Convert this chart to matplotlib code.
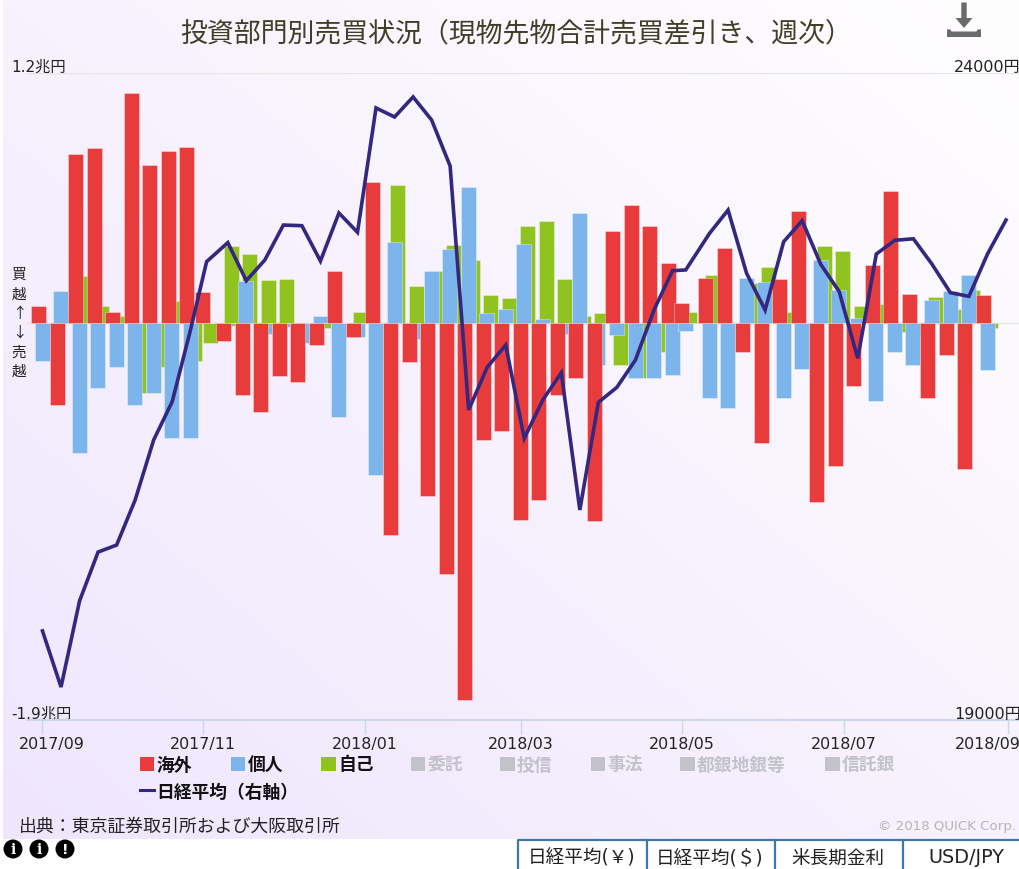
import numpy as np
import pandas as pd
import matplotlib
matplotlib.use("Agg")
import matplotlib.pyplot as plt
import matplotlib.dates as mdates
from matplotlib.patches import Rectangle, Polygon, Circle
from matplotlib.lines import Line2D
from matplotlib.transforms import Affine2D

FONT = ['DejaVu Sans', 'Noto Sans CJK JP']
plt.rcParams['font.family'] = FONT
W, H = 1019, 870

title = "投資部門別売買状況（現物先物合計売買差引き、週次）"

# weekly settlement dates (Fridays, Thursday/Wednesday where Friday is a holiday)
dates = pd.date_range("2017-09-01", "2018-08-31", freq="7D")
dates = dates.where(dates != pd.Timestamp("2017-11-03"), pd.Timestamp("2017-11-02"))
dates = dates.where(dates != pd.Timestamp("2018-05-04"), pd.Timestamp("2018-05-02"))

# 兆円
kaigai = [.085,-.393,.811,.840,.057,1.103,.760,.825,.846,.150,-.086,-.342,-.422,-.251,-.279,-.102,.249,-.064,.677,
          -1.014,-.185,-.829,-1.199,-1.803,-.559,-.516,-.944,-.844,-.343,-.259,-.948,.441,.569,.469,.291,.099,.219,.363,
          -.137,-.573,.214,.540,-.857,-.685,-.302,.278,.634,.140,-.358,-.152,-.695,.134,np.nan]
kojin = [-.181,.157,-.623,-.307,-.207,-.393,-.335,-.551,-.551,0,-.010,.205,-.051,-.016,-.094,.037,-.450,-.064,-.728,
         .391,-.073,.249,.356,.655,.049,.070,.383,.019,-.051,.527,-.201,-.057,-.263,-.259,-.249,-.038,-.358,-.407,
         .219,.200,-.358,-.216,.305,.161,.027,-.372,-.137,-.201,.114,.157,.233,-.222,np.nan]
jiko = [-.024,.085,.228,.085,.037,-.335,-.207,.107,-.181,-.094,.370,.334,.206,.214,0,-.023,0,.056,0,
        .662,.179,.249,.377,.305,.134,.120,.469,.490,.214,.037,.049,-.201,-.263,-.136,0,.056,.233,0,
        .196,.270,.056,0,.369,.348,.085,.092,-.043,-.067,.128,.070,.161,-.021,np.nan]
nikkei = [19688,19255,19920,20298,20352,20700,21164,21460,22022,22542,22689,22395,22555,22825,22820,22547,22918,22769,
          23730,23660,23815,23637,23281,21396,21726,21898,21177,21473,21684,20623,21455,21571,21782,22168,22472,22478,
          22761,22941,22452,22168,22696,22859,22522,22310,21795,22601,22707,22719,22524,22302,22274,22601,22864]

month_ticks = ["2017-09-01","2017-11-01","2018-01-01","2018-03-01","2018-05-01","2018-07-01","2018-09-01"]
month_labels = ["2017/09","2017/11","2018/01","2018/03","2018/05","2018/07","2018/09"]
y_left_ticks = [-1.9, 0, 1.2]
y_left_labels = ["-1.9兆円", "", "1.2兆円"]
y_right_ticks = [19000, 24000]
y_right_labels = ["19000円", "24000円"]

active_legend = ["海外", "個人", "自己"]
inactive_legend = ["委託", "投信", "事法", "都銀地銀等", "信託銀"]
line_label = "日経平均（右軸）"
buttons = ["日経平均(￥)", "日経平均(＄)", "米長期金利", "USD/JPY"]

RED, BLUE, GREEN, NAVY = "#e83c3c", "#7cb5ec", "#90c31f", "#33277f"
GREY = "#c2c2cb"

fig = plt.figure(figsize=(W/100, H/100), dpi=100, facecolor="white")
px = Affine2D().scale(1, -1).translate(0, H)   # pixel coords, origin top-left

# gradient background
bg = fig.add_axes([3/W, (H-840)/H, (W-3)/W, 840/H], zorder=0)
yy, xx = np.mgrid[0:1:120j, 0:1:120j]
t = 0.5*(1-xx) + 0.5*yy
c0 = np.array([0xff, 0xfe, 0xff])/255
c1 = np.array([0xef, 0xe6, 0xfd])/255
bg.imshow(c0 + (c1-c0)*t[..., None], aspect="auto", interpolation="bilinear", origin="upper")
bg.axis("off")

L, R, T, B = 27, W, 74, 721
ax = fig.add_axes([L/W, (H-B)/H, (R-L)/W, (B-T)/H], zorder=1)
ax.patch.set_alpha(0)
x0 = mdates.date2num(pd.Timestamp("2017-09-01"))
ppd = 2.647  # px per day
ax.set_xlim(x0-(41.7-L)/ppd, x0+(R-41.7)/ppd)
ax.set_ylim(-1.9, 1.2)

xs = mdates.date2num(dates)
bw = 15/ppd
edge = (1, 1, 1, 0.35)
ax.bar(xs+1.6, jiko, bw, color=GREEN, edgecolor=edge, linewidth=.7, zorder=2)
ax.bar(xs+0.15, kojin, bw, color=BLUE, edgecolor=edge, linewidth=.7, zorder=3)
ax.bar(xs-1.2, kaigai, bw, color=RED, edgecolor=edge, linewidth=.7, zorder=4)

for s in ["top", "left", "right"]:
    ax.spines[s].set_visible(False)
ax.spines["bottom"].set_color("#ccd6eb")
ax.spines["bottom"].set_linewidth(1.4)
ax.set_axisbelow(True)
ax.set_xticks(mdates.date2num(pd.to_datetime(month_ticks)))
ax.set_xticklabels(month_labels, fontsize=11.4, color="#222222")
ax.tick_params(axis="x", length=10, width=1, color="#ccd6eb", pad=1.8)
ax.set_yticks(y_left_ticks)
ax.set_yticklabels(y_left_labels, fontsize=11, color="#222222")
ax.tick_params(axis="y", length=0, pad=0)
ax.grid(axis="y", color="#e6e6e6", linewidth=1)
for lab, dx in zip(ax.get_xticklabels(), [10.5, 0, 0, 0, 0, 0, -20.5]):
    lab.set_transform(lab.get_transform() + Affine2D().translate(dx, 0))
for lab, dy in zip(ax.get_yticklabels(), [8.5, 0, 8]):
    lab.set_ha("left")
    lab.set_transform(lab.get_transform() + Affine2D().translate(-16, dy))

ax2 = ax.twinx()
ax2.set_zorder(2)
ax2.patch.set_alpha(0)
ax2.set_ylim(19000, 24000)
ax2.plot(xs+0.3, nikkei, color=NAVY, lw=2.6, solid_joinstyle="miter", zorder=5)
for s in ax2.spines.values():
    s.set_visible(False)
ax2.set_yticks(y_right_ticks)
ax2.set_yticklabels(y_right_labels, fontsize=11.5, color="#222222")
ax2.tick_params(axis="y", length=0, pad=0)
for lab, dy in zip(ax2.get_yticklabels(), [8, 8]):
    lab.set_ha("right")
    lab.set_transform(lab.get_transform() + Affine2D().translate(2, dy))

def ptext(x, y, s, **kw):
    kw.setdefault("va", "center")
    kw.setdefault("family", FONT)
    fig.text(x/W, 1-y/H, s, **kw)

def add(p):
    p.set_transform(px)
    fig.add_artist(p)

ptext(516, 34, title, ha="center", fontsize=19.4, color="#3f3f26")

# side label
for ch, yy_ in zip("買越↑↓売越", [275, 295, 314, 333, 353, 372]):
    ptext(19, yy_, ch, ha="center", fontsize=10.5, color="#222222",
          family=['Noto Sans CJK JP', 'DejaVu Sans'])

# legend
for x, lab, col in zip([139.5, 230.5, 321], active_legend, [RED, BLUE, GREEN]):
    add(Rectangle((x, 757.5), 14.5, 14.5, facecolor=col, edgecolor="none"))
    ptext(x+17, 765.5, lab, fontsize=12.8, fontweight="bold", color="#111111")
for x, lab in zip([410.5, 500, 590.5, 680, 825], inactive_legend):
    add(Rectangle((x, 757.5), 14.5, 14.5, facecolor=GREY, edgecolor="none"))
    ptext(x+17, 765.5, lab, fontsize=12.8, fontweight="bold", color=GREY)
add(Line2D([139.5, 154], [791, 791], color=NAVY, lw=2.2))
ptext(156.5, 792.5, line_label, fontsize=12.8, fontweight="bold", color="#111111")

ptext(19, 826.5, "出典：東京証券取引所および大阪取引所", fontsize=12.9, color="#222222")
ptext(1016, 827, "© 2018 QUICK Corp.", ha="right", fontsize=9.6, color="#b5b5b5")

# info icons
for x, s in zip([13, 39, 65], ["i", "i", "!"]):
    add(Circle((x, 850), 9.5, facecolor="black", edgecolor="none"))
    ptext(x, 850, s, ha="center", fontsize=10, fontweight="bold", color="white",
          family="DejaVu Serif" if s == "i" else "DejaVu Sans")

# buttons
bx = [518, 647, 775, 903, W+2]
for i, lab in enumerate(buttons):
    add(Line2D([bx[i], bx[i], bx[i+1]], [H, 840.5, 840.5], color="#3e78a8", lw=1.6))
    ptext((bx[i]+bx[i+1])/2 + (-1 if i < 3 else 4), 858, lab, ha="center",
          fontsize=13.4 if i < 3 else 13.9, color="#222222")

# download icon
add(Polygon([(961.3, 3.5), (966.7, 3.5), (966.7, 19), (972.5, 19), (964, 29), (955.5, 19), (961.3, 19)],
            closed=True, facecolor="#6b6b6b", edgecolor="none"))
add(Polygon([(947, 30.5), (950.5, 30.5), (951.5, 32.5), (976.5, 32.5), (977.5, 30.5), (981, 30.5), (981, 38), (947, 38)],
            closed=True, facecolor="#6b6b6b", edgecolor="none"))

fig.savefig("out.png", dpi=100)
